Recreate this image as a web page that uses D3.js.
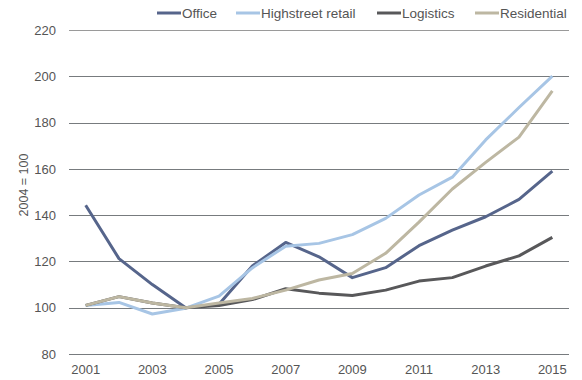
<!DOCTYPE html>
<html>
<head>
<meta charset="utf-8">
<script src="https://cdn.jsdelivr.net/npm/d3@7/dist/d3.min.js"></script>
<style>
  body { margin: 0; background: #fff; }
  svg text { font-family: "Liberation Sans", Arial, Helvetica, sans-serif; fill: #555; }
</style>
</head>
<body>
<div id="chart"></div>
<script>
// Index values, 2004 = 100
const years = ['2001', '2002', '2003', '2004', '2005', '2006', '2007', '2008',
  '2009', '2010', '2011', '2012', '2013', '2014', '2015']
const office = [144.3, 121.2, 110, 100, 101.5, 118, 128.2, 122, 113, 117.3, 126.8, 133.5, 139.3, 146.8, 159]
const highstreetRetail = [101, 102.3, 97.3, 99.8, 105, 117.2, 126.6, 127.8, 131.6, 138.6, 148.7, 156.4, 172.5, 186.5, 200.1]
const logistics = [101, 104.8, 102, 100, 101, 103.5, 108.2, 106.3, 105.3, 107.6, 111.5, 113, 118, 122.4, 130.4]
const residential = [101, 104.8, 102, 100, 102, 104, 107.6, 112, 114.8, 123.5, 137, 151.3, 162.8, 173.7, 193.7]
const yTicks = [80, 100, 120, 140, 160, 180, 200, 220]

const series = [
  { name: 'Office', values: office, color: '#56658b' },
  { name: 'Highstreet retail', values: highstreetRetail, color: '#a7c5e5' },
  { name: 'Logistics', values: logistics, color: '#58585a' },
  { name: 'Residential', values: residential, color: '#bdb7a2' },
]

const width = 582
const height = 380
const margin = { top: 30, right: 13, bottom: 26, left: 69 }
const innerWidth = width - margin.left - margin.right
const innerHeight = height - margin.top - margin.bottom

const svg = d3
  .select('#chart')
  .append('svg')
  .attr('width', width)
  .attr('height', height)
  .style('display', 'block')

const g = svg
  .append('g')
  .attr('transform', `translate(${margin.left},${margin.top})`)

// Scales
const xScale = d3.scaleBand().domain(years).range([0, innerWidth])
const yScale = d3.scaleLinear().domain([80, 220]).range([innerHeight, 0])

// Gridlines
g.append('g')
  .selectAll('line')
  .data(yTicks)
  .join('line')
  .attr('x1', 0)
  .attr('x2', innerWidth)
  .attr('y1', (d) => Math.round(yScale(d)) + 0.5)
  .attr('y2', (d) => Math.round(yScale(d)) + 0.5)
  .attr('stroke', (d) => (d === 220 ? '#9a9a9a' : '#777b7e'))
  .attr('stroke-width', 1.2)

// Y axis labels
const yAxis = d3.axisLeft(yScale).tickValues(yTicks).tickSize(0).tickPadding(13)
g.append('g')
  .call(yAxis)
  .call((sel) => sel.select('.domain').remove())
  .selectAll('text')
  .style('font-size', '13px')

// X axis labels (every other year)
const xAxis = d3
  .axisBottom(xScale)
  .tickValues(years.filter((d, i) => i % 2 === 0))
  .tickSize(0)
  .tickPadding(11)
g.append('g')
  .attr('transform', `translate(0,${innerHeight})`)
  .call(xAxis)
  .call((sel) => sel.select('.domain').remove())
  .selectAll('text')
  .style('font-size', '13px')

// Y axis title
svg
  .append('text')
  .attr('transform', 'translate(28,185) rotate(-90)')
  .attr('text-anchor', 'middle')
  .style('font-size', '12.5px')
  .text('2004 = 100')

// Lines
const line = d3
  .line()
  .x((d, i) => xScale(years[i]) + xScale.bandwidth() / 2)
  .y((d) => yScale(d))

g.selectAll('.series')
  .data(series)
  .join('path')
  .attr('class', 'series')
  .attr('fill', 'none')
  .attr('stroke', (d) => d.color)
  .attr('stroke-width', 3)
  .attr('stroke-linejoin', 'round')
  .attr('d', (d) => line(d.values))

// Legend
const legendX = [157, 236, 377, 475]
const legend = svg
  .append('g')
  .selectAll('g')
  .data(series)
  .join('g')
  .attr('transform', (d, i) => `translate(${legendX[i]},13)`)

legend
  .append('line')
  .attr('x1', 0)
  .attr('x2', 24)
  .attr('stroke', (d) => d.color)
  .attr('stroke-width', 3)

legend
  .append('text')
  .attr('x', 25)
  .attr('y', 5)
  .style('font-size', '13.5px')
  .text((d) => d.name)
</script>
</body>
</html>
